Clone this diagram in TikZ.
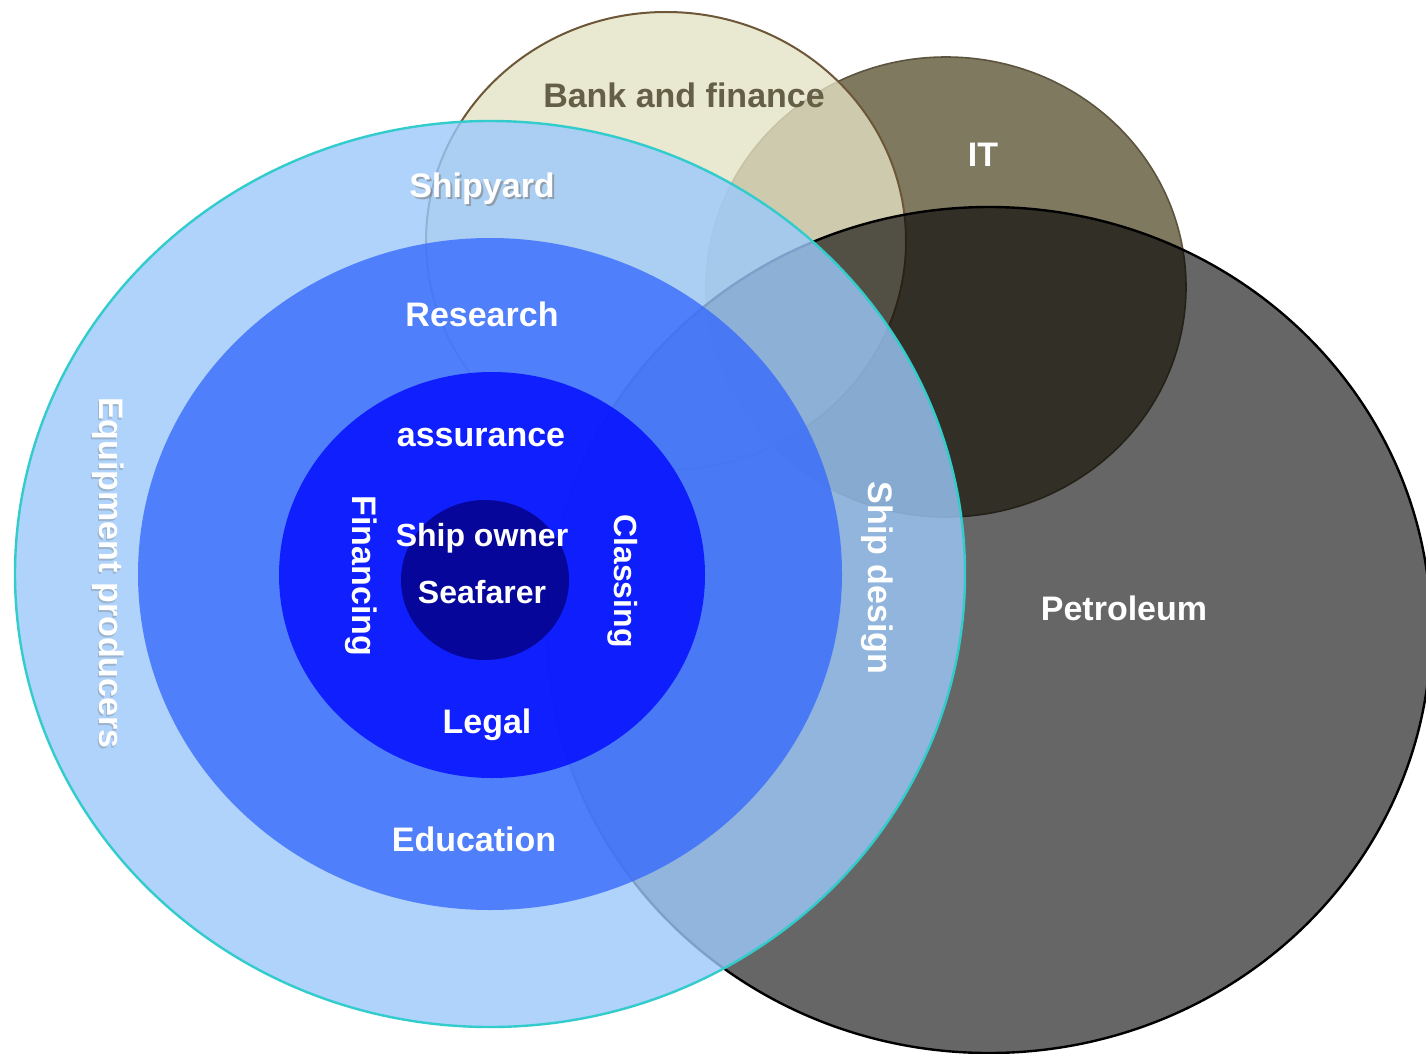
\documentclass[tikz,border=0pt]{standalone}
\usepackage{fontspec}
\setmainfont{Liberation Sans}
\definecolor{itfill}{RGB}{127,121,96}
\definecolor{itline}{RGB}{92,84,62}
\definecolor{bankfill}{RGB}{228,226,195}
\definecolor{bankline}{RGB}{110,87,56}
\definecolor{banktext}{RGB}{100,95,70}
\definecolor{outerblue}{RGB}{156,201,251}
\definecolor{outerline}{RGB}{51,204,204}
\definecolor{researchblue}{RGB}{56,107,252}
\definecolor{innerblue}{RGB}{0,8,255}
\definecolor{coreblue}{RGB}{4,0,129}
\definecolor{shadowgrey}{RGB}{120,120,120}
\begin{document}
\begin{tikzpicture}[x=1pt,y=-1pt,
  lbl/.style={text=white, font=\fontsize{34}{40}\selectfont\bfseries, inner sep=0pt, anchor=base},
  lblsm/.style={lbl, font=\fontsize{32}{38}\selectfont\bfseries},
  shadowlbl/.style={lbl, text=shadowgrey, text opacity=0.55},
  blueset/.style={fill opacity=0.8, draw opacity=1}]
\useasboundingbox (0,0) rectangle (1426,1054);
\clip (0,0) rectangle (1426,1054);
\fill[white] (0,0) rectangle (1426,1054);
% IT
\draw[draw=itline, fill=itfill, line width=1.6pt] (946,287) ellipse [x radius=240pt, y radius=230pt];
% Bank and finance
\draw[draw=bankline, fill=bankfill, fill opacity=0.78, line width=2pt] (666,241) ellipse [x radius=240pt, y radius=229pt];
% Petroleum
\draw[draw=black, fill=black, fill opacity=0.6, line width=2.4pt] (989,630) ellipse [x radius=442pt, y radius=423pt];
% blue nested set
\draw[blueset, fill=outerblue, draw=outerline, line width=2.4pt] (490,574) ellipse [x radius=475pt, y radius=453pt];
\fill[blueset, fill=researchblue] (490,574) ellipse [x radius=352pt, y radius=336pt];
\fill[blueset, fill=innerblue] (492,575) ellipse [x radius=213pt, y radius=203pt];
\fill[blueset, fill=coreblue] (485,580) ellipse [x radius=84pt, y radius=80pt];
% labels
\node[lbl, text=banktext] (bank) at (684,108) {Bank and finance};
\node[lbl] (it) at (983,166) {IT};
\node[shadowlbl] (shipyardsh) at (484,199) {Shipyard};
\node[lbl] (shipyard) at (482,197) {Shipyard};
\node[lbl] (research) at (482,326) {Research};
\node[lbl] (assurance) at (481,446) {assurance};
\node[lblsm] (shipowner) at (482,546) {Ship owner};
\node[lblsm] (seafarer) at (482,603) {Seafarer};
\node[lbl] (legal) at (487,733) {Legal};
\node[lbl] (education) at (474,851) {Education};
\node[lbl] (petroleum) at (1124,620) {Petroleum};
\node[shadowlbl, rotate=-90, text opacity=0.35] (equipsh) at (98,575) {Equipment producers};
\node[lbl, rotate=-90] (equip) at (99,573) {Equipment producers};
\node[lbl, rotate=-90] (financing) at (352,576) {Financing};
\node[lblsm, rotate=-90] (classing) at (614,581) {Classing};
\node[lbl, rotate=-90] (shipdesign) at (868,578) {Ship design};
\end{tikzpicture}
\end{document}
